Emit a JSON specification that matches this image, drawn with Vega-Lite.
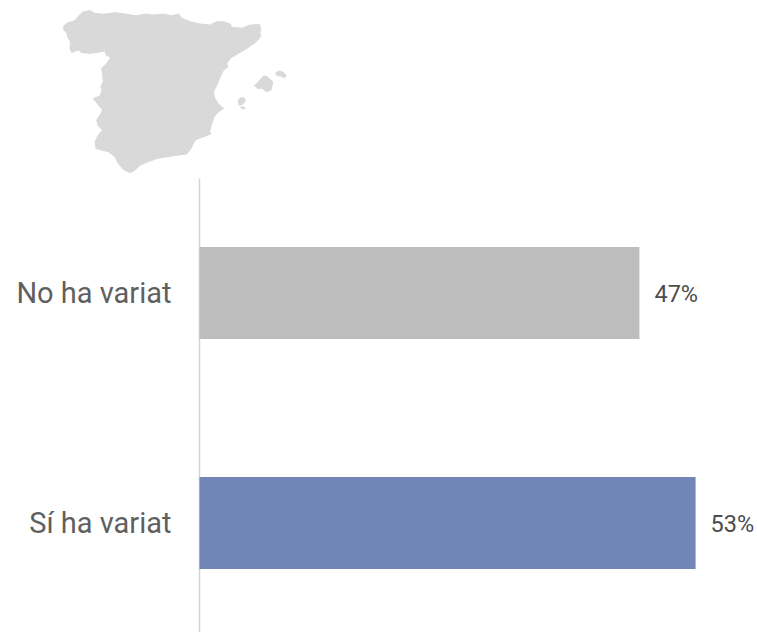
{"$schema":"https://vega.github.io/schema/vega-lite/v6.json","width":757,"height":632,"padding":0,"autosize":{"type":"none"},"background":"white","config":{"view":{"stroke":null},"font":"Roboto"},"datasets":{"bars":[{"resposta":"No ha variat","valor":0.47},{"resposta":"Sí ha variat","valor":0.53}],"mapa":[{"r":"Peninsula","o":1,"lon":-9.28,"lat":43.01},{"r":"Peninsula","o":2,"lon":-9.08,"lat":43.17},{"r":"Peninsula","o":3,"lon":-8.57,"lat":43.30},{"r":"Peninsula","o":4,"lon":-8.31,"lat":43.56},{"r":"Peninsula","o":5,"lon":-8.07,"lat":43.72},{"r":"Peninsula","o":6,"lon":-7.66,"lat":43.77},{"r":"Peninsula","o":7,"lon":-7.36,"lat":43.64},{"r":"Peninsula","o":8,"lon":-6.86,"lat":43.60},{"r":"Peninsula","o":9,"lon":-6.15,"lat":43.67},{"r":"Peninsula","o":10,"lon":-5.54,"lat":43.61},{"r":"Peninsula","o":11,"lon":-4.94,"lat":43.53},{"r":"Peninsula","o":12,"lon":-4.23,"lat":43.61},{"r":"Peninsula","o":13,"lon":-3.83,"lat":43.56},{"r":"Peninsula","o":14,"lon":-3.22,"lat":43.61},{"r":"Peninsula","o":15,"lon":-2.71,"lat":43.53},{"r":"Peninsula","o":16,"lon":-2.31,"lat":43.61},{"r":"Peninsula","o":17,"lon":-2.11,"lat":43.41},{"r":"Peninsula","o":18,"lon":-1.60,"lat":43.25},{"r":"Peninsula","o":19,"lon":-1.00,"lat":43.14},{"r":"Peninsula","o":20,"lon":-0.39,"lat":43.09},{"r":"Peninsula","o":21,"lon":0.01,"lat":43.25},{"r":"Peninsula","o":22,"lon":0.42,"lat":43.25},{"r":"Peninsula","o":23,"lon":0.82,"lat":43.14},{"r":"Peninsula","o":24,"lon":0.92,"lat":42.98},{"r":"Peninsula","o":25,"lon":1.53,"lat":42.94},{"r":"Peninsula","o":26,"lon":2.03,"lat":43.09},{"r":"Peninsula","o":27,"lon":2.60,"lat":43.12},{"r":"Peninsula","o":28,"lon":2.68,"lat":42.86},{"r":"Peninsula","o":29,"lon":2.60,"lat":42.70},{"r":"Peninsula","o":30,"lon":2.70,"lat":42.57},{"r":"Peninsula","o":31,"lon":2.34,"lat":42.26},{"r":"Peninsula","o":32,"lon":1.83,"lat":41.99},{"r":"Peninsula","o":33,"lon":1.33,"lat":41.76},{"r":"Peninsula","o":34,"lon":0.82,"lat":41.52},{"r":"Peninsula","o":35,"lon":0.62,"lat":41.28},{"r":"Peninsula","o":36,"lon":0.66,"lat":41.10},{"r":"Peninsula","o":37,"lon":0.42,"lat":40.97},{"r":"Peninsula","o":38,"lon":0.22,"lat":40.66},{"r":"Peninsula","o":39,"lon":0.01,"lat":40.26},{"r":"Peninsula","o":40,"lon":-0.19,"lat":39.95},{"r":"Peninsula","o":41,"lon":-0.15,"lat":39.71},{"r":"Peninsula","o":42,"lon":0.07,"lat":39.40},{"r":"Peninsula","o":43,"lon":0.42,"lat":39.16},{"r":"Peninsula","o":44,"lon":0.11,"lat":39.00},{"r":"Peninsula","o":45,"lon":-0.15,"lat":38.77},{"r":"Peninsula","o":46,"lon":-0.29,"lat":38.45},{"r":"Peninsula","o":47,"lon":-0.43,"lat":38.06},{"r":"Peninsula","o":48,"lon":-0.35,"lat":37.95},{"r":"Peninsula","o":49,"lon":-0.79,"lat":37.83},{"r":"Peninsula","o":50,"lon":-1.30,"lat":37.67},{"r":"Peninsula","o":51,"lon":-1.56,"lat":37.27},{"r":"Peninsula","o":52,"lon":-1.81,"lat":37.01},{"r":"Peninsula","o":53,"lon":-2.31,"lat":36.96},{"r":"Peninsula","o":54,"lon":-3.02,"lat":36.88},{"r":"Peninsula","o":55,"lon":-3.62,"lat":36.80},{"r":"Peninsula","o":56,"lon":-4.13,"lat":36.65},{"r":"Peninsula","o":57,"lon":-4.63,"lat":36.49},{"r":"Peninsula","o":58,"lon":-4.94,"lat":36.25},{"r":"Peninsula","o":59,"lon":-5.24,"lat":36.13},{"r":"Peninsula","o":60,"lon":-5.64,"lat":36.28},{"r":"Peninsula","o":61,"lon":-5.95,"lat":36.57},{"r":"Peninsula","o":62,"lon":-6.15,"lat":36.88},{"r":"Peninsula","o":63,"lon":-6.55,"lat":37.12},{"r":"Peninsula","o":64,"lon":-6.96,"lat":37.20},{"r":"Peninsula","o":65,"lon":-7.30,"lat":37.27},{"r":"Peninsula","o":66,"lon":-7.36,"lat":37.59},{"r":"Peninsula","o":67,"lon":-7.16,"lat":37.90},{"r":"Peninsula","o":68,"lon":-6.90,"lat":38.14},{"r":"Peninsula","o":69,"lon":-7.16,"lat":38.33},{"r":"Peninsula","o":70,"lon":-7.26,"lat":38.61},{"r":"Peninsula","o":71,"lon":-7.06,"lat":38.85},{"r":"Peninsula","o":72,"lon":-6.90,"lat":39.08},{"r":"Peninsula","o":73,"lon":-7.16,"lat":39.32},{"r":"Peninsula","o":74,"lon":-7.46,"lat":39.63},{"r":"Peninsula","o":75,"lon":-7.06,"lat":39.74},{"r":"Peninsula","o":76,"lon":-6.92,"lat":40.06},{"r":"Peninsula","o":77,"lon":-7.02,"lat":40.18},{"r":"Peninsula","o":78,"lon":-6.86,"lat":40.42},{"r":"Peninsula","o":79,"lon":-6.90,"lat":40.73},{"r":"Peninsula","o":80,"lon":-6.96,"lat":41.05},{"r":"Peninsula","o":81,"lon":-6.65,"lat":41.28},{"r":"Peninsula","o":82,"lon":-6.41,"lat":41.57},{"r":"Peninsula","o":83,"lon":-6.69,"lat":41.68},{"r":"Peninsula","o":84,"lon":-6.75,"lat":41.87},{"r":"Peninsula","o":85,"lon":-7.26,"lat":41.80},{"r":"Peninsula","o":86,"lon":-7.66,"lat":41.76},{"r":"Peninsula","o":87,"lon":-8.17,"lat":41.79},{"r":"Peninsula","o":88,"lon":-8.37,"lat":41.91},{"r":"Peninsula","o":89,"lon":-8.77,"lat":41.80},{"r":"Peninsula","o":90,"lon":-8.88,"lat":41.99},{"r":"Peninsula","o":91,"lon":-8.84,"lat":42.31},{"r":"Peninsula","o":92,"lon":-8.98,"lat":42.46},{"r":"Peninsula","o":93,"lon":-9.08,"lat":42.75},{"r":"Peninsula","o":94,"lon":-9.28,"lat":42.86},{"r":"Mallorca","o":1,"lon":2.28,"lat":40.22},{"r":"Mallorca","o":2,"lon":2.54,"lat":40.42},{"r":"Mallorca","o":3,"lon":2.84,"lat":40.69},{"r":"Mallorca","o":4,"lon":3.04,"lat":40.66},{"r":"Mallorca","o":5,"lon":3.41,"lat":40.42},{"r":"Mallorca","o":6,"lon":3.29,"lat":40.03},{"r":"Mallorca","o":7,"lon":3.04,"lat":39.95},{"r":"Mallorca","o":8,"lon":2.74,"lat":40.11},{"r":"Mallorca","o":9,"lon":2.44,"lat":40.11},{"r":"Menorca","o":1,"lon":3.55,"lat":40.81},{"r":"Menorca","o":2,"lon":3.75,"lat":40.92},{"r":"Menorca","o":3,"lon":4.05,"lat":40.86},{"r":"Menorca","o":4,"lon":4.22,"lat":40.69},{"r":"Menorca","o":5,"lon":4.11,"lat":40.61},{"r":"Menorca","o":6,"lon":3.85,"lat":40.69},{"r":"Menorca","o":7,"lon":3.61,"lat":40.72},{"r":"Eivissa","o":1,"lon":1.29,"lat":39.48},{"r":"Eivissa","o":2,"lon":1.43,"lat":39.66},{"r":"Eivissa","o":3,"lon":1.67,"lat":39.66},{"r":"Eivissa","o":4,"lon":1.73,"lat":39.51},{"r":"Eivissa","o":5,"lon":1.53,"lat":39.32},{"r":"Eivissa","o":6,"lon":1.33,"lat":39.32},{"r":"Formentera","o":1,"lon":1.43,"lat":39.21},{"r":"Formentera","o":2,"lon":1.63,"lat":39.24},{"r":"Formentera","o":3,"lon":1.73,"lat":39.16},{"r":"Formentera","o":4,"lon":1.53,"lat":39.13}]},"layer":[{"data":{"name":"mapa"},"mark":{"type":"line","fill":"#d9d9d9","stroke":"#d9d9d9","strokeWidth":1,"strokeJoin":"round","interpolate":"linear"},"encoding":{"x":{"field":"lon","type":"quantitative","axis":null,"scale":{"domain":[-9.3,4.2],"range":[63,286],"zero":false,"nice":false}},"y":{"field":"lat","type":"quantitative","axis":null,"scale":{"domain":[36.13,43.8],"range":[172.7,10],"zero":false,"nice":false}},"detail":{"field":"r"},"order":{"field":"o","type":"quantitative"}}},{"data":{"name":"bars"},"encoding":{"x":{"field":"valor","type":"quantitative","axis":null,"scale":{"domain":[0,0.6],"range":[199.5,761.1],"nice":false}},"y":{"field":"resposta","type":"nominal","sort":null,"scale":{"range":[178,638],"paddingInner":0.6,"paddingOuter":0.3},"axis":{"title":null,"offset":-199,"ticks":false,"domainColor":"#d3d3d3","domainWidth":1.5,"labelFont":"Roboto","labelFontSize":29,"labelFontWeight":400,"labelColor":"#5f5f5f","labelPadding":28,"labelLimit":300,"labelOffset":1}}},"layer":[{"mark":{"type":"bar"},"encoding":{"color":{"field":"resposta","type":"nominal","legend":null,"scale":{"domain":["No ha variat","Sí ha variat"],"range":["#bdbdbd","#7285b7"]}}}},{"mark":{"type":"text","align":"left","dx":15,"dy":1.5,"font":"Roboto","fontSize":23.5,"fontWeight":400,"color":"#4d4d4d"},"encoding":{"text":{"field":"valor","type":"quantitative","format":".0%"}}}]}],"resolve":{"scale":{"x":"independent","y":"independent"}}}
